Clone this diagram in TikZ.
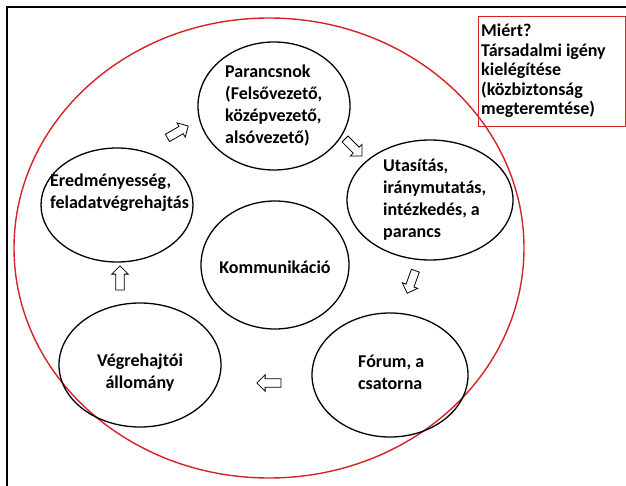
\documentclass[tikz,border=0pt]{standalone}
\usepackage{fontspec}
\setmainfont{Carlito}
\usetikzlibrary{shapes.geometric,shapes.arrows}
\definecolor{myred}{RGB}{215,35,40}
\begin{document}
\begin{tikzpicture}[x=1pt,y=-1pt,
  ell/.style={ellipse, draw=black, line width=1.3pt, inner sep=0pt},
  txt/.style={font=\fontsize{18}{22}\selectfont\bfseries, align=left, inner sep=0pt, anchor=west},
  barrow/.style={single arrow, draw=black, line width=0.8pt, fill=white, inner xsep=0pt, inner ysep=3.8pt, minimum height=24pt, single arrow head extend=4pt}]
\useasboundingbox (0,0) rectangle (626,486);
\fill[white] (0,0) rectangle (626,486);
\draw[line width=1.8pt] (7,490) -- (7,7) -- (630,7);
\node[ellipse, draw=myred, line width=1.4pt, minimum width=510pt, minimum height=460pt, inner sep=0pt] (outer) at (269,248) {};
\node[draw=myred, line width=1.4pt, minimum width=147pt, minimum height=110pt, inner sep=0pt, anchor=north west] (whybox) at (478,16) {};
\node[txt, font=\fontsize{18}{19.5}\selectfont\bfseries] (whytxt) at (481,71) {Miért?\\Társadalmi igény\\kielégítése\\(közbiztonság\\megteremtése)};
% ellipses
\node[ell, minimum width=152pt, minimum height=128pt] (par) at (274,106) {};
\node[ell, minimum width=166pt, minimum height=120pt] (uta) at (430,200) {};
\node[ell, minimum width=148pt, minimum height=128pt] (kom) at (275,265) {};
\node[ell, minimum width=152pt, minimum height=114pt] (ere) at (117,205) {};
\node[ell, minimum width=162pt, minimum height=124pt] (veg) at (140,365) {};
\node[ell, minimum width=156pt, minimum height=124pt] (for) at (390,375) {};
% texts
\node[txt] (partxt) at (225,106) {Parancsnok\\(Felsővezető,\\középvezető,\\alsóvezető)};
\node[txt] (utatxt) at (383,200) {Utasítás,\\iránymutatás,\\intézkedés, a\\parancs};
\node[txt, anchor=center] (komtxt) at (275,267) {Kommunikáció};
\node[txt] (eretxt) at (50,193) {Eredményesség,\\feladatvégrehajtás};
\node[txt, anchor=center, align=center] (vegtxt) at (140,373) {Végrehajtói\\állomány};
\node[txt] (fortxt) at (358,372) {Fórum, a\\csatorna};
% block arrows
\node[barrow, rotate=30] (a1) at (176,133) {};
\node[barrow, rotate=-45] (a2) at (352,146) {};
\node[barrow, rotate=-110] (a3) at (412,280) {};
\node[barrow, rotate=180] (a4) at (271,383) {};
\node[barrow, rotate=90] (a5) at (120,280) {};
\end{tikzpicture}
\end{document}
